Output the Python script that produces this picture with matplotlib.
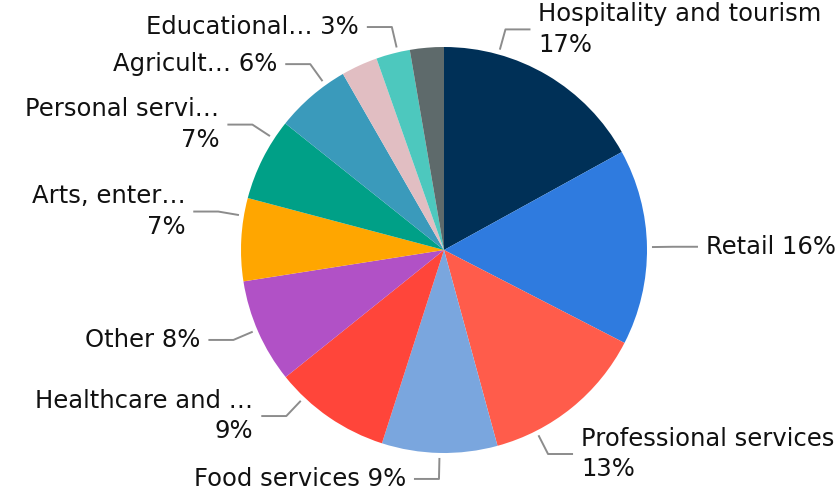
import numpy as np
import matplotlib.pyplot as plt

plt.rcParams['font.family'] = ['DejaVu Sans']

# Данные: доли секторов (по часовой стрелке от 12 часов)
sectors = ["Hospitality and tourism", "Retail", "Professional services", "Food services",
           "Healthcare and …", "Other", "Arts, enter…", "Personal servi…",
           "Agricult…", "(unlabeled 1)", "Educational…", "(unlabeled 2)"]
shares = [17.0, 15.6, 13.2, 9.2, 9.3, 8.3, 6.6, 6.6, 6.0, 2.9, 2.7, 2.7]
pct_text = ["17%", "16%", "13%", "9%", "9%", "8%", "7%", "7%", "6%", "3%", "3%", "3%"]
show_label = [True, True, True, True, True, True, True, True, True, False, True, False]
two_lines = [True, False, True, False, True, False, True, True, False, False, False, False]
colors = ["#003057", "#2F7BDF", "#FF5C4B", "#7AA6DE", "#FF453A", "#B151C6",
          "#FFA600", "#00A087", "#3A9ABB", "#E1BEC2", "#4DC8BE", "#5E6A6B"]

# сдвиг выносок (градусы), чтобы подписи не налезали
nudge = [-15, 0, 12, 0, 9, 0.7, 6.7, 6.5, 4.9, 0, 1.4, 0]

W, H = 840, 494
cx, cy, R = 444, 250, 203  # центр и радиус круга в пикселях

fig = plt.figure(figsize=(W / 100, H / 100), dpi=100)
ax = fig.add_axes([0, 0, 1, 1])
ax.pie(shares, colors=colors, startangle=90, counterclock=False,
       wedgeprops=dict(linewidth=0))
ax.set_xlim(-cx / R, (W - cx) / R)
ax.set_ylim(-(H - cy) / R, cy / R)
ax.set_aspect('auto')
ax.axis('off')

frac = np.array(shares) / np.sum(shares)
mid = (np.cumsum(frac) - frac / 2) * 360  # по часовой от верха

r0, r1, hl, gap = 208 / R, 229 / R, 25 / R, 8 / R
for i, name in enumerate(sectors):
    if not show_label[i]:
        continue
    a = np.deg2rad(mid[i] + nudge[i])
    x0, y0 = r0 * np.sin(a), r0 * np.cos(a)
    x1, y1 = r1 * np.sin(a), r1 * np.cos(a)
    side = 1 if np.sin(a) > 1e-6 else -1
    x2 = x1 + side * hl
    ax.plot([x0, x1, x2], [y0, y1, y1], color='#8c8c8c', lw=1.4,
            solid_capstyle='butt', clip_on=False)
    txt = f"{name}\n{pct_text[i]}" if two_lines[i] else f"{name} {pct_text[i]}"
    ax.text(x2 + side * gap, y1, txt, ha='left' if side > 0 else 'right',
            va='center', fontsize=17.5, color='#111111', linespacing=1.35)

plt.savefig('out.png', dpi=100)
